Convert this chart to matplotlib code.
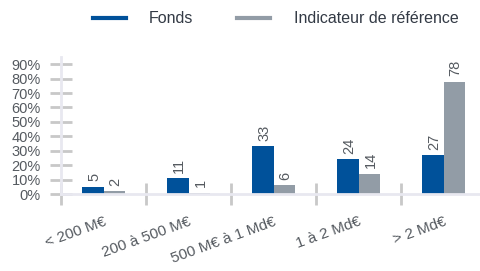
import matplotlib
matplotlib.use('Agg')
import matplotlib.pyplot as plt
import numpy as np

categories = ["< 200 M€", "200 à 500 M€", "500 M€ à 1 Md€", "1 à 2 Md€", "> 2 Md€"]
fonds = [5, 11, 33, 24, 27]
indicateur = [2, 1, 6, 14, 78]
series_names = ["Fonds", "Indicateur de référence"]
yticks = [0, 10, 20, 30, 40, 50, 60, 70, 80, 90]

blue = "#00519a"
grey = "#929ca6"
text_col = "#555a60"

plt.rcParams['font.family'] = ['Liberation Sans', 'DejaVu Sans']

fig = plt.figure(figsize=(4.8, 2.71), dpi=100)
W, H = 480, 271
left, right, base, top = 61, 486, 194, 57
ax = fig.add_axes([left / W, 1 - base / H, (right - left) / W, (base - top) / H])

x = np.arange(len(categories))
w = 0.255
b1 = ax.bar(x - w / 2, fonds, w, color=blue, label=series_names[0])
b2 = ax.bar(x + w / 2, indicateur, w, color=grey, label=series_names[1])

for bars, vals in ((b1, fonds), (b2, indicateur)):
    for r, v in zip(bars, vals):
        ax.annotate(str(v), (r.get_x() + r.get_width() / 2, r.get_height()),
                    xytext=(1, 4), textcoords='offset points', rotation=90,
                    ha='center', va='bottom', fontsize=10.5, color=text_col)

ax.set_xlim(-0.5, len(categories) - 0.5)
ax.set_ylim(0, 95)
ax.set_yticks(yticks)
ax.set_yticklabels([f"{t}%" for t in yticks], fontsize=10.5, color=text_col)
ax.tick_params(axis='y', direction='inout', length=16, width=2, color='#c8c8c8', pad=6.5)

ax.set_xticks(x)
ax.set_xticklabels(categories, rotation=20, ha='right', rotation_mode='anchor',
                   fontsize=11, color=text_col)
ax.tick_params(axis='x', which='major', length=0, pad=15)
ax.set_xticks(np.arange(len(categories)) - 0.5, minor=True)
ax.tick_params(axis='x', which='minor', direction='inout', length=16, width=2, color='#c8c8c8')

for s in ('top', 'right'):
    ax.spines[s].set_visible(False)
for s in ('left', 'bottom'):
    ax.spines[s].set_color('#e8e8f0')
    ax.spines[s].set_linewidth(2)

handles = [plt.Line2D([], [], color=blue, lw=3), plt.Line2D([], [], color=grey, lw=3)]
fig.legend(handles, series_names, loc='center', bbox_to_anchor=(0.574, 1 - 19 / H),
           ncol=2, frameon=False, fontsize=11.5, handlelength=2.07, handletextpad=1.45,
           columnspacing=2.75, labelcolor='#333a45')

fig.savefig("out.png", dpi=100)
plt.close(fig)
